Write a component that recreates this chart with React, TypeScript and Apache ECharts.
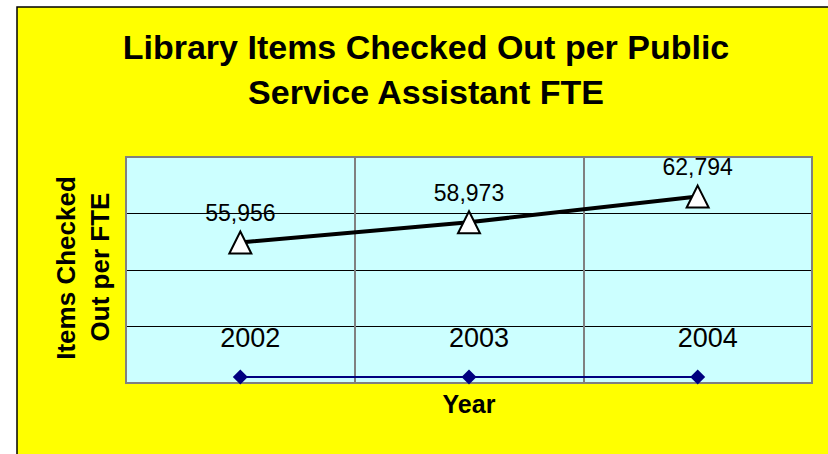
import React, { useEffect, useRef } from "react";
import * as echarts from "echarts";

const categories = ["2002", "2003", "2004"];
const itemsPerFTE = [55956, 58973, 62794];
const yearValues = [2002, 2003, 2004];
const titleLines = ["Library Items Checked Out per Public", "Service Assistant FTE"];
const yAxisTitleLines = ["Items Checked", "Out per FTE"];
const xAxisTitle = "Year";

const FONT = "'Liberation Sans', Arial, Helvetica, sans-serif";

export default function App() {
  const ref = useRef<HTMLDivElement>(null);
  useEffect(() => {
    if (!ref.current) return;
    const chart = echarts.init(ref.current, null, { renderer: "svg" });
    const gridLeft = 126;
    const gridTop = 157;
    const gridW = 686;
    const gridH = 226;
    chart.setOption({
      animation: false,
      backgroundColor: "#ffffff",
      textStyle: { fontFamily: FONT },
      graphic: [
        {
          type: "rect",
          z: -100,
          silent: true,
          shape: { x: 17, y: 7, width: 900, height: 600 },
          style: { fill: "#FFFF00", stroke: "#000000", lineWidth: 1.5 },
        },
        {
          type: "text",
          z: 100,
          x: 426,
          y: 46.7,
          style: {
            text: titleLines[0],
            font: `bold 34px ${FONT}`,
            fill: "#000",
            align: "center",
            verticalAlign: "middle",
          },
        },
        {
          type: "text",
          z: 100,
          x: 426,
          y: 91.7,
          style: {
            text: titleLines[1],
            font: `bold 34px ${FONT}`,
            fill: "#000",
            align: "center",
            verticalAlign: "middle",
          },
        },
        {
          type: "text",
          z: 100,
          x: 65.5,
          y: 268,
          rotation: Math.PI / 2,
          style: {
            text: yAxisTitleLines[0],
            font: `bold 26px ${FONT}`,
            fill: "#000",
            align: "center",
            verticalAlign: "middle",
          },
        },
        {
          type: "text",
          z: 100,
          x: 100,
          y: 267,
          rotation: Math.PI / 2,
          style: {
            text: yAxisTitleLines[1],
            font: `bold 26px ${FONT}`,
            fill: "#000",
            align: "center",
            verticalAlign: "middle",
          },
        },
        {
          type: "text",
          z: 100,
          x: 469,
          y: 404,
          style: {
            text: xAxisTitle,
            font: `bold 25px ${FONT}`,
            fill: "#000",
            align: "center",
            verticalAlign: "middle",
          },
        },
      ],
      grid: {
        left: gridLeft,
        top: gridTop,
        width: gridW,
        height: gridH,
        show: true,
        backgroundColor: "#CCFFFF",
        borderColor: "#808080",
        borderWidth: 2,
      },
      xAxis: {
        type: "category",
        data: categories,
        boundaryGap: true,
        axisLine: { show: false },
        axisTick: { show: false },
        axisLabel: { show: false },
        splitLine: { show: true, lineStyle: { color: "#808080", width: 2 } },
      },
      yAxis: [
        {
          type: "value",
          min: 35000,
          max: 68700,
          show: false,
          splitLine: { show: false },
        },
        {
          type: "value",
          min: 0,
          max: 75000,
          interval: 18750,
          axisLine: { show: false },
          axisTick: { show: false },
          axisLabel: { show: false },
          splitLine: {
            show: true,
            lineStyle: { color: ["#808080", "#000000", "#000000", "#000000", "#808080"], width: 1 },
          },
        },
      ],
      series: [
        {
          type: "line",
          yAxisIndex: 1,
          data: yearValues,
          symbol: "diamond",
          symbolSize: 15,
          itemStyle: { color: "#000080" },
          lineStyle: { color: "#000080", width: 2 },
          label: {
            show: true,
            position: "top",
            distance: 18,
            offset: [10, 0],
            fontSize: 27,
            fontFamily: FONT,
            color: "#000",
            formatter: (p: any) => String(p.value),
          },
          z: 3,
        },
        {
          type: "line",
          yAxisIndex: 0,
          data: itemsPerFTE,
          symbol: "triangle",
          symbolSize: 22,
          itemStyle: { color: "#ffffff", borderColor: "#000000", borderWidth: 2 },
          lineStyle: { color: "#000000", width: 4 },
          label: {
            show: true,
            position: "top",
            distance: 6,
            fontSize: 23,
            fontFamily: FONT,
            color: "#000",
            formatter: (p: any) => Number(p.value).toLocaleString("en-US"),
          },
          z: 4,
        },
      ],
    });
    return () => chart.dispose();
  }, []);
  return (
    <div
      ref={ref}
      style={{ position: "absolute", left: 0, top: 0, width: 828, height: 454 }}
    />
  );
}
